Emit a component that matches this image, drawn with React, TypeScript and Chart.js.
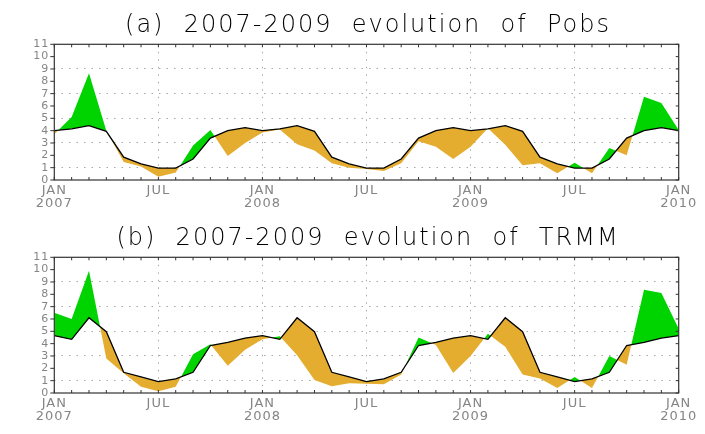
import React, { useEffect, useRef } from "react";
import { Chart, registerables } from "chart.js";

Chart.register(...registerables);

// ---- data ----
const xTickLabels: string[][] = [
  ["JAN", "2007"], ["JUL"], ["JAN", "2008"], ["JUL"], ["JAN", "2009"], ["JUL"], ["JAN", "2010"],
];
const yTickValues = [0, 1, 2, 3, 4, 5, 6, 7, 8, 9, 10, 11];
const monthNames = ["JAN", "FEB", "MAR", "APR", "MAY", "JUN", "JUL", "AUG", "SEP", "OCT", "NOV", "DEC"];
const years = [2007, 2008, 2009];
const monthLabels: string[] = [
  ...years.flatMap((y) => monthNames.map((m) => `${m} ${y}`)),
  "JAN 2010",
];

const climPobs = [
  4.0, 4.15, 4.4, 3.95, 1.85, 1.3, 0.97, 0.97, 1.7, 3.4, 4.0, 4.25,
  4.0, 4.15, 4.4, 3.95, 1.85, 1.3, 0.97, 0.97, 1.7, 3.4, 4.0, 4.25,
  4.0, 4.15, 4.4, 3.95, 1.85, 1.3, 0.97, 0.97, 1.7, 3.4, 4.0, 4.25,
  4.0,
];
const pobs = [
  3.7, 5.1, 8.65, 4.0, 1.45, 1.1, 0.27, 0.6, 2.8, 4.05, 1.95, 3.0,
  3.85, 4.1, 2.9, 2.4, 1.35, 1.0, 0.9, 0.73, 1.35, 3.15, 2.7, 1.7,
  2.7, 4.2, 2.85, 1.2, 1.35, 0.55, 1.4, 0.55, 2.6, 2.0, 6.75, 6.25,
  4.05,
];
const climTrmm = [
  4.65, 4.35, 6.1, 4.97, 1.68, 1.3, 0.93, 1.15, 1.68, 3.85, 4.1, 4.45,
  4.65, 4.35, 6.1, 4.97, 1.68, 1.3, 0.93, 1.15, 1.68, 3.85, 4.1, 4.45,
  4.65, 4.35, 6.1, 4.97, 1.68, 1.3, 0.93, 1.15, 1.68, 3.85, 4.1, 4.45,
  4.65,
];
const trmm = [
  6.5, 6.0, 9.9, 2.8, 1.6, 0.5, 0.15, 0.5, 3.15, 3.95, 2.2, 3.5,
  4.35, 4.6, 3.05, 1.05, 0.55, 0.8, 0.75, 0.7, 1.5, 4.5, 3.9, 1.63,
  3.0, 4.8, 3.75, 1.5, 1.17, 0.4, 1.3, 0.4, 3.0, 2.3, 8.37, 8.1,
  5.2,
];
const titles = [
  "(a)  2007-2009  evolution  of  Pobs",
  "(b)  2007-2009  evolution  of  TRMM",
];

const GREEN = "#00d400";
const ORANGE = "#e5ad30";
const GRID = "#a8a8a8";
const LABEL = "#858585";

function Panel({ title, clim, obs, top }: { title: string; clim: number[]; obs: number[]; top: number }) {
  const ref = useRef<HTMLCanvasElement | null>(null);
  useEffect(() => {
    if (!ref.current) return;
    const framePlugin = {
      id: "frame",
      beforeDraw(chart: any) {
        chart.ctx.letterSpacing = "1px";
      },
      afterDatasetsDraw(chart: any) {
        const { ctx, chartArea: a, scales } = chart;
        ctx.save();
        ctx.strokeStyle = "#333";
        ctx.lineWidth = 1.2;
        ctx.strokeRect(a.left, a.top, a.right - a.left, a.bottom - a.top);
        ctx.lineWidth = 1;
        ctx.beginPath();
        for (let i = 0; i < monthLabels.length; i++) {
          const x = scales.x.getPixelForValue(i);
          ctx.moveTo(x, a.bottom);
          ctx.lineTo(x, a.bottom - 3);
          ctx.moveTo(x, a.top);
          ctx.lineTo(x, a.top + 3);
        }
        for (const v of yTickValues) {
          const y = scales.y.getPixelForValue(v);
          ctx.moveTo(a.left - 4, y);
          ctx.lineTo(a.left, y);
          ctx.moveTo(a.right, y);
          ctx.lineTo(a.right - 3, y);
        }
        ctx.stroke();
        ctx.restore();
      },
      afterDraw(chart: any) {
        const { ctx, chartArea: a } = chart;
        ctx.save();
        ctx.letterSpacing = "2px";
        ctx.font = "200 24px 'DejaVu Sans'";
        ctx.fillStyle = "#000";
        ctx.textAlign = "center";
        ctx.textBaseline = "alphabetic";
        ctx.fillText(title, 368, a.top - 12);
        ctx.restore();
      },
    };
    const chart = new Chart(ref.current, {
      type: "line",
      data: {
        labels: monthLabels,
        datasets: [
          {
            data: clim,
            borderColor: "#000",
            borderWidth: 1.3,
            pointRadius: 0,
            tension: 0,
            fill: false,
          },
          {
            data: obs,
            borderColor: "rgba(0,0,0,0)",
            borderWidth: 0,
            pointRadius: 0,
            tension: 0,
            fill: { target: 0, above: GREEN, below: ORANGE },
          },
        ],
      },
      options: {
        animation: false,
        responsive: false,
        devicePixelRatio: 1,
        layout: { padding: { top: 44.3, right: 26.3, bottom: 0, left: 0 } },
        plugins: {
          legend: { display: false },
          tooltip: { enabled: false },
          title: { display: false },
          filler: { drawTime: "beforeDatasetsDraw" },
        } as any,
        scales: {
          x: {
            type: "category",
            offset: false,
            grid: {
              color: (c: any) =>
                c.index % 6 === 0 && c.index > 0 && c.index < 36 ? GRID : "rgba(0,0,0,0)",
              drawTicks: false,
              lineWidth: 1,
            },
            border: { display: false, dash: [1.5, 6] },
            ticks: {
              autoSkip: false,
              maxRotation: 0,
              padding: 4,
              color: LABEL,
              font: { family: "'DejaVu Sans'", size: 13, lineHeight: 1.0 },
              callback: (_v: any, i: number) => (i % 6 === 0 ? xTickLabels[i / 6] : ""),
            },
            afterFit: (s: any) => {
              s.height = 30;
            },
          },
          y: {
            min: 0,
            max: 11,
            ticks: {
              stepSize: 1,
              autoSkip: false,
              padding: 5,
              color: LABEL,
              font: { family: "'DejaVu Sans'", size: 11, lineHeight: 1.0 },
            },
            grid: {
              color: (c: any) =>
                c.tick && c.tick.value % 2 === 1 && c.tick.value < 11 ? GRID : "rgba(0,0,0,0)",
              drawTicks: false,
            },
            border: { display: false, dash: [1.5, 6] },
            afterFit: (s: any) => {
              s.width = 54.3;
            },
          },
        } as any,
      },
      plugins: [framePlugin],
    });
    return () => chart.destroy();
  }, [title, clim, obs]);
  return (
    <canvas
      ref={ref}
      width={705}
      height={210}
      style={{ position: "absolute", left: 0, top, width: 705, height: 210 }}
    />
  );
}

export default function App() {
  return (
    <div style={{ position: "absolute", left: 0, top: 0, width: 705, height: 434, background: "#fff" }}>
      <Panel title={titles[0]} clim={climPobs} obs={pobs} top={0} />
      <Panel title={titles[1]} clim={climTrmm} obs={trmm} top={213} />
    </div>
  );
}
